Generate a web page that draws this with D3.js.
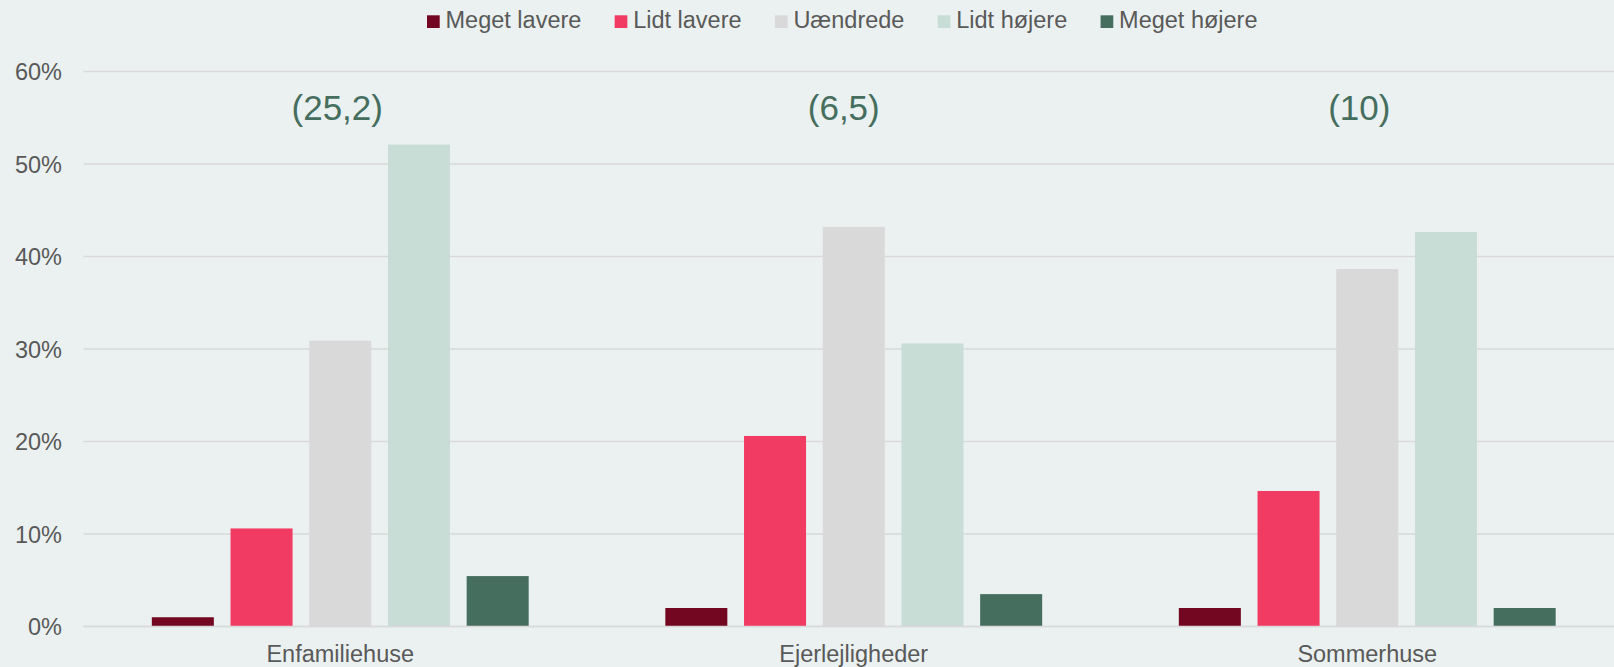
<!DOCTYPE html>
<html>
<head>
<meta charset="utf-8">
<script src="https://cdn.jsdelivr.net/npm/d3@7"></script>
<style>
  body { margin: 0; background: #ebf1f1; }
  svg { display: block; font-family: "Liberation Sans", Arial, sans-serif; }
</style>
</head>
<body>
<svg id="chart"></svg>
<script>
// data
const categories = ["Enfamiliehuse", "Ejerlejligheder", "Sommerhuse"];
const series = ["Meget lavere", "Lidt lavere", "Uændrede", "Lidt højere", "Meget højere"];
const colors = ["#730721", "#f23b63", "#d9d9d9", "#c9ddd7", "#466e5e"];
const megetLavere = [1.0, 2.0, 2.0];
const lidtLavere = [10.6, 20.6, 14.65];
const uaendrede = [30.9, 43.2, 38.65];
const lidtHoejere = [52.1, 30.6, 42.65];
const megetHoejere = [5.45, 3.5, 2.0];
const notes = ["(25,2)", "(6,5)", "(10)"];
const yTicks = [0, 10, 20, 30, 40, 50, 60];

const values = [megetLavere, lidtLavere, uaendrede, lidtHoejere, megetHoejere];

const W = 1614, H = 667;
const svg = d3.select("#chart").attr("width", W).attr("height", H);

let x0 = d3.scaleBand().domain(categories).range([83.5, 1624]).padding(0);
let x1 = d3.scaleBand().domain(series).range([0, x0.bandwidth()]).paddingInner(0.212).paddingOuter(0.868);
let y = d3.scaleLinear().domain([0, 60]).range([626.5, 71.5]);

// gridlines
svg.append("g")
  .selectAll("line")
  .data(yTicks)
  .enter()
  .append("line")
  .attr("x1", 83.5)
  .attr("x2", W)
  .attr("y1", d => y(d))
  .attr("y2", d => y(d))
  .attr("stroke", "#d9d9d9")
  .attr("stroke-width", 1.5);

// y labels
svg.append("g")
  .selectAll("text")
  .data(yTicks)
  .enter()
  .append("text")
  .attr("x", 62)
  .attr("y", d => y(d) + 8.5)
  .attr("text-anchor", "end")
  .attr("fill", "#595959")
  .attr("font-size", "23.5px")
  .text(d => d + "%");

// bars
let groups = svg.append("g")
  .selectAll("g")
  .data(categories)
  .enter()
  .append("g")
  .attr("transform", d => "translate(" + x0(d) + ",0)");

groups.selectAll("rect")
  .data((c, ci) => series.map((s, si) => ({ s: s, si: si, v: values[si][ci] })))
  .enter()
  .append("rect")
  .attr("x", d => x1(d.s))
  .attr("width", x1.bandwidth())
  .attr("y", d => y(d.v))
  .attr("height", d => y(0) - y(d.v))
  .attr("fill", d => colors[d.si]);

// axis line on top of bars
svg.append("line")
  .attr("x1", 83.5).attr("x2", W)
  .attr("y1", y(0)).attr("y2", y(0))
  .attr("stroke", "#d9d9d9")
  .attr("stroke-width", 1.5);

// category labels
svg.append("g")
  .selectAll("text")
  .data(categories)
  .enter()
  .append("text")
  .attr("x", d => x0(d) + x0.bandwidth() / 2)
  .attr("y", 662)
  .attr("text-anchor", "middle")
  .attr("fill", "#595959")
  .attr("font-size", "23.5px")
  .text(d => d);

// notes above each group (text boxes sit a little left of centre)
const noteShift = [-3, -10, -8];
svg.append("g")
  .selectAll("text")
  .data(categories)
  .enter()
  .append("text")
  .attr("x", (d, i) => x0(d) + x0.bandwidth() / 2 + noteShift[i])
  .attr("y", 119.5)
  .attr("text-anchor", "middle")
  .attr("fill", "#466e5e")
  .attr("font-size", "35px")
  .text((d, i) => notes[i]);

// legend
let legend = svg.append("g");
let lx = 427;
series.forEach(function(s, i) {
  legend.append("rect")
    .attr("x", lx).attr("y", 15.3)
    .attr("width", 12.7).attr("height", 12.7)
    .attr("fill", colors[i]);
  let t = legend.append("text")
    .attr("x", lx + 18.5)
    .attr("y", 28.3)
    .attr("fill", "#595959")
    .attr("font-size", "23.5px")
    .text(s);
  lx = lx + 18.5 + t.node().getComputedTextLength() + 33.3;
});
</script>
</body>
</html>
